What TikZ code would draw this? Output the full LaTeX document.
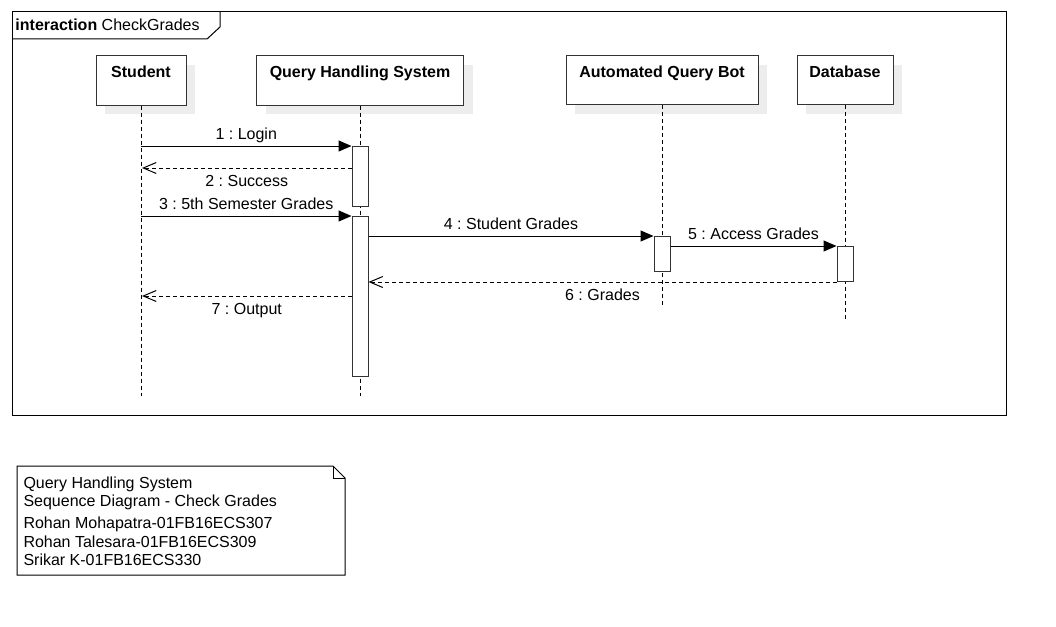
\documentclass[tikz,border=0pt]{standalone}
\usepackage{fontspec}
\setmainfont{Liberation Sans}
\usetikzlibrary{arrows.meta,shadows}
\frenchspacing

\begin{document}
\begin{tikzpicture}[x=1pt,y=-1pt,line width=1pt,
    font=\fontsize{16}{19}\selectfont,
    head/.style={draw=black!80,fill=white,minimum height=49pt,inner xsep=2pt,inner ysep=4pt,
                 text height=17.5pt,text depth=23.5pt,font=\fontsize{16}{19}\selectfont\bfseries,
                 drop shadow={shadow xshift=9pt,shadow yshift=-9pt,fill=black!7,opacity=1}},
    life/.style={dash pattern=on 4pt off 3pt},
    actbar/.style={draw=black!80,fill=white,minimum width=16pt,inner sep=0pt,anchor=north},
    msg/.style={-{Triangle[length=13pt,width=11pt]}},
    reply/.style={dash pattern=on 4pt off 3pt,-{Straight Barb[length=13pt,width=11pt]}},
    lbl/.style={inner sep=2pt}]
  \useasboundingbox (0,0) rectangle (1056,626);
  \draw (12,12) rectangle (1006,415);
  \draw (12,39) -- (207,39) -- (220,27) -- (220,12);
  \node[anchor=west,inner sep=0pt] (title) at (15,25) {\textbf{interaction} CheckGrades};

  \node[head,minimum width=90pt] (stu) at (141,80.5) {Student};
  \node[head,minimum width=207pt] (qhs) at (360,80.5) {Query Handling System};
  \node[head,minimum width=192pt] (bot) at (662,80) {Automated Query Bot};
  \node[head,minimum width=96pt] (db) at (845,80) {Database};

  \draw[life] (stu.south) -- ++(0,290);
  \draw[life] (qhs.south) -- ++(0,290);
  \draw[life] (bot.south) -- ++(0,200);
  \draw[life] (db.south) -- ++(0,216);

  \node[actbar,minimum height=60pt] (q1) at (360,146) {};
  \node[actbar,minimum height=160pt] (q2) at (360,216) {};
  \node[actbar,minimum height=35pt] (a1) at (662,236) {};
  \node[actbar,minimum height=35pt] (d1) at (845,246) {};

  \coordinate (r2) at (142,168);
  \coordinate (r7) at (142,296);

  \draw[msg] (stu |- q1.north) -- (q1.north west) node[midway,above=1pt,lbl] {1 : Login};
  \draw[reply] (q1.west |- r2) -- (r2) node[midway,below=5pt,lbl] {2 : Success};
  \draw[msg] (stu |- q2.north) -- (q2.north west) node[midway,above=4pt,lbl] {3 : 5th Semester Grades};
  \draw[msg] (q2.east |- a1.north) -- (a1.north west) node[midway,above=4pt,lbl] {4 : Student Grades};
  \draw[msg] (a1.east |- d1.north) -- (d1.north west) node[midway,above=4pt,lbl] {5 : Access Grades};
  \draw[reply] (d1.south west) -- (q2.east |- d1.south) node[midway,below=4pt,lbl] {6 : Grades};
  \draw[reply] (q2.west |- r7) -- (r7) node[midway,below=5pt,lbl] {7 : Output};

  \draw (17,466) -- (333,466) -- (345,478) -- (345,575) -- (17,575) -- cycle;
  \draw (333,466) -- (333,478) -- (345,478);
  \node[anchor=north west,align=left,inner sep=0pt,font=\fontsize{16}{18.3}\selectfont] (note) at (23,476)
    {Query Handling System\\Sequence Diagram - Check Grades\\[4pt]Rohan Mohapatra-01FB16ECS307\\Rohan Talesara-01FB16ECS309\\Srikar K-01FB16ECS330};
\end{tikzpicture}
\end{document}
